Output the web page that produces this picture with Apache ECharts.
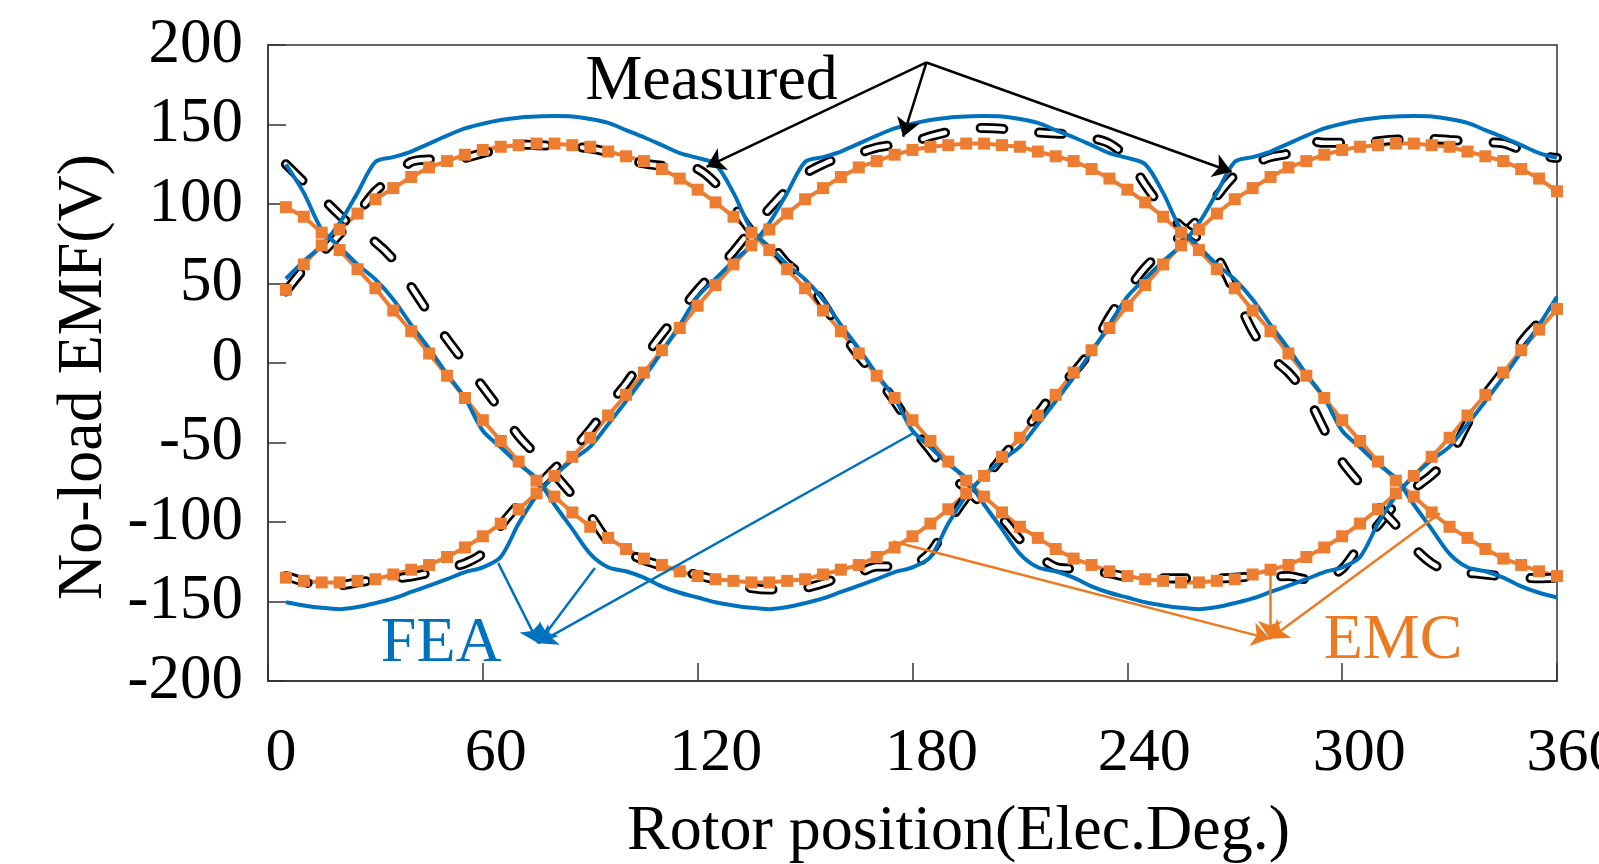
<!DOCTYPE html>
<html>
<head>
<meta charset="utf-8">
<script src="https://cdn.jsdelivr.net/npm/echarts@6.0.0/dist/echarts.min.js"></script>
<style>
  html, body { margin: 0; padding: 0; background: #fff; }
  #main { width: 1599px; height: 864px; }
</style>
</head>
<body>
<div id="main"></div>
<script>
// rotor position (elec. deg) of every sample
const angles = [5, 10, 15, 20, 25, 30, 35, 40, 45, 50, 55, 60, 65, 70, 75, 80, 85, 90, 95, 100,
  105, 110, 115, 120, 125, 130, 135, 140, 145, 150, 155, 160, 165, 170, 175, 180, 185, 190, 195, 200,
  205, 210, 215, 220, 225, 230, 235, 240, 245, 250, 255, 260, 265, 270, 275, 280, 285, 290, 295, 300,
  305, 310, 315, 320, 325, 330, 335, 340, 345, 350, 355, 360]

// EMC (orange squares)
const emcA = [98, 92, 82, 71, 59, 47, 33, 20, 6, -8, -22, -36, -49, -62, -74, -84, -94, -103, -110, -117,
  -123, -127, -131, -134, -136, -137, -138, -138, -137, -136, -133, -130, -127, -122, -116, -109, -101, -92, -82, -71,
  -59, -47, -33, -20, -6, 8, 22, 36, 49, 62, 74, 84, 94, 103, 110, 117, 123, 127, 131, 134,
  136, 137, 138, 138, 137, 136, 133, 130, 127, 122, 116, 108]
const emcB = [46, 62, 74, 84, 94, 103, 110, 117, 123, 127, 131, 134, 136, 137, 138, 138, 137, 136, 133, 130,
  127, 122, 116, 109, 101, 92, 82, 71, 59, 47, 33, 20, 6, -8, -22, -36, -49, -62, -74, -84,
  -94, -103, -110, -117, -123, -127, -131, -134, -136, -137, -138, -138, -137, -136, -133, -130, -127, -122, -116, -109,
  -101, -92, -82, -71, -59, -47, -33, -20, -6, 8, 21, 34]
const emcC = [-135, -137, -138, -138, -137, -136, -133, -130, -127, -122, -116, -109, -101, -92, -82, -71, -59, -47, -33, -20,
  -6, 8, 22, 36, 49, 62, 74, 84, 94, 103, 110, 117, 123, 127, 131, 134, 136, 137, 138, 138,
  137, 136, 133, 130, 127, 122, 116, 109, 101, 92, 82, 71, 59, 47, 33, 20, 6, -8, -22, -36,
  -49, -62, -74, -84, -94, -103, -110, -117, -123, -127, -131, -134]

// FEA (blue solid)
const feaA = [125, 107, 84, 73, 62, 52.5, 40, 24, 9, -7, -22, -42.6, -53, -63.5, -72.5, -89, -104.5, -120, -128.5, -131,
  -135, -140.5, -144.5, -147.5, -150.5, -152.5, -154, -154.8, -153.5, -151, -148, -144, -140, -136, -131.5, -128.5, -122, -101, -83.5, -71,
  -61, -52.6, -38.5, -24, -9, 7, 24, 41.7, 53, 64, 74, 88, 107, 126.5, 129.5, 133, 138, 143, 147.5, 150.5,
  152.8, 154.3, 155, 155.3, 155, 153.5, 151, 146.5, 142, 137, 132, 129]
const feaB = [53, 64, 74, 88, 107, 126.5, 129.5, 133, 138, 143, 147.5, 150.5, 152.8, 154.3, 155, 155.3, 155, 153.5, 151, 146.5,
  142, 137, 132, 129, 125, 107, 84, 73, 62, 52.5, 40, 24, 9, -7, -22, -42.6, -53, -63.5, -72.5, -89,
  -104.5, -120, -128.5, -131, -135, -140.5, -144.5, -147.5, -150.5, -152.5, -154, -154.8, -153.5, -151, -148, -144, -140, -136, -131.5, -128.5,
  -122, -101, -83.5, -71, -61, -52.6, -38.5, -24, -9, 7, 24, 41.7]
const feaC = [-150.5, -152.5, -154, -154.8, -153.5, -151, -148, -144, -140, -136, -131.5, -128.5, -122, -101, -83.5, -71, -61, -52.6, -38.5, -24,
  -9, 7, 24, 41.7, 53, 64, 74, 88, 107, 126.5, 129.5, 133, 138, 143, 147.5, 150.5, 152.8, 154.3, 155, 155.3,
  155, 153.5, 151, 146.5, 142, 137, 132, 129, 125, 107, 84, 73, 62, 52.5, 40, 24, 9, -7, -22, -42.6,
  -53, -63.5, -72.5, -89, -104.5, -120, -128.5, -131, -135, -140.5, -144.5, -147.5]

// Measured (black outlined dashes)
const measA = [125, 114, 104, 93, 83, 76, 65, 48, 31, 15, 0, -15, -30, -46, -58, -70, -83, -96, -112, -119,
  -124, -127.5, -130.5, -133.5, -136.3, -139, -141.5, -142.5, -142.3, -141.5, -138.5, -134.5, -132, -128, -128, -127, -119, -101, -84.5, -73,
  -59.5, -46, -32, -17, -6, 8.5, 29, 45.5, 60, 71, 80, 91, 105, 118, 125, 129.5, 132, 140, 138.5, 138.5,
  138.2, 139.5, 140.5, 141.2, 141, 140.2, 139.5, 138.8, 138.2, 134, 130.5, 129]
const measB = [45, 59, 69, 81, 94, 108, 117, 126.5, 128, 128.5, 129, 132, 134.5, 137.5, 137, 136.5, 136, 135, 132.5, 128.5,
  125.5, 124, 123.5, 122, 113, 99, 83, 75.5, 62.5, 53.5, 37.5, 20, 4.5, -9, -24, -41, -55, -70, -79, -90,
  -98, -111, -121, -128.3, -129.5, -131, -132.3, -134.5, -135.4, -135.4, -135.4, -135.4, -135.4, -135, -134.3, -134.3, -134, -136, -135, -129.5,
  -114.5, -102, -88.5, -79, -70.5, -59, -38, -20, -5, 13, 25.5, 34]
const measC = [-134, -137.5, -140.5, -140, -138, -136.5, -135.5, -134.3, -132, -129, -126, -119.5, -102.5, -89, -78, -66.5, -55, -42, -27, -13,
  3, 18, 32, 46, 58, 70, 84, 97, 109, 119, 125, 129.5, 132, 135.5, 137.2, 139, 142.5, 145.3, 147.3, 147.8,
  147.3, 145.8, 145, 144.3, 143.6, 141.5, 138, 129, 112, 97, 86, 78, 67, 44, 20, 4, -6, -20, -42, -62,
  -76, -90, -102, -116, -126, -131, -132, -133, -134.3, -135, -135.4, -135]

// annotations: [from, to] in axis units
const measuredArrows = [
  [[183.9, 189.0], [122.5, 123.4]],
  [[183.9, 189.0], [177.4, 142.3]],
  [[183.9, 189.0], [269.1, 120.3]]
]
const feaArrows = [
  [[64.3, -125.9], [75.5, -176.2]],
  [[91.3, -129.0], [75.5, -176.2]],
  [[180.2, -44.2], [75.5, -176.2]]
]
const emcArrows = [
  [[174.6, -112.3], [279.8, -173.5]],
  [[279.8, -129.0], [279.8, -173.5]],
  [[327.3, -94.5], [279.8, -173.5]]
]
const notes = [
  { text: 'Measured', at: [123.9, 176.8], color: '#000000' },
  { text: 'FEA', at: [48.4, -176.9], color: '#0072BD' },
  { text: 'EMC', at: [314.2, -175.1], color: '#EC7A22' }
]

const FONT = 'Liberation Serif'
const BLUE = '#0072BD'
const ORANGE = '#ED7D31'
const ARROW_ORANGE = '#EC7A22'

// tick labels sit a little right of their ticks in the original
const xLabelShift = { 0: 13, 60: 13, 120: 18, 180: 19, 240: 17, 300: 17, 360: 16 }
const xLabelRich = {}
Object.keys(xLabelShift).forEach(k => {
  xLabelRich['t' + k] = {
    fontFamily: FONT,
    fontSize: 62,
    color: '#000',
    padding: [0, 0, 0, xLabelShift[k] * 2]
  }
})

function pairs (ys) {
  return angles.map((x, i) => [x, ys[i]])
}

function arrowLine (list, color) {
  return {
    silent: true,
    animation: false,
    symbol: ['none', 'arrow'],
    symbolSize: 18,
    label: { show: false },
    emphasis: { disabled: true },
    lineStyle: { color: color, width: 2.5, type: 'solid', opacity: 1 },
    itemStyle: { color: color },
    data: list.map(a => [{ coord: a[0] }, { coord: a[1] }])
  }
}

function noteMark (note) {
  return {
    silent: true,
    animation: false,
    data: [{
      coord: note.at,
      symbol: 'rect',
      symbolSize: 1,
      itemStyle: { color: 'rgba(0,0,0,0)' },
      label: {
        show: true,
        position: 'inside',
        formatter: note.text,
        fontFamily: FONT,
        fontSize: 64,
        color: note.color
      }
    }]
  }
}

let series = []

// EMC below everything
;[emcA, emcB, emcC].forEach((ys, i) => {
  series.push({
    name: 'EMC',
    type: 'line',
    data: pairs(ys),
    symbol: 'rect',
    symbolSize: 12,
    showSymbol: true,
    lineStyle: { color: ORANGE, width: 4 },
    itemStyle: { color: ORANGE },
    markLine: i === 0 ? arrowLine(emcArrows, ARROW_ORANGE) : undefined,
    markPoint: i === 0 ? noteMark(notes[2]) : undefined
  })
})

// measured: black dash with white core
;[measA, measB, measC].forEach((ys, i) => {
  series.push({
    name: 'Measured',
    type: 'line',
    data: pairs(ys),
    smooth: 0.3,
    showSymbol: false,
    lineStyle: { color: '#000', width: 10, type: [23, 36], cap: 'round' }
  })
  series.push({
    name: 'Measured core',
    type: 'line',
    data: pairs(ys),
    smooth: 0.3,
    showSymbol: false,
    lineStyle: { color: '#fff', width: 4.5, type: [23, 36], cap: 'round' },
    markLine: i === 2 ? arrowLine(measuredArrows, '#000') : undefined,
    markPoint: i === 2 ? noteMark(notes[0]) : undefined
  })
})

// FEA on top
;[feaA, feaB, feaC].forEach((ys, i) => {
  series.push({
    name: 'FEA',
    type: 'line',
    data: pairs(ys),
    smooth: 0.3,
    showSymbol: false,
    lineStyle: { color: BLUE, width: 4 },
    markLine: i === 0 ? arrowLine(feaArrows, BLUE) : undefined,
    markPoint: i === 0 ? noteMark(notes[1]) : undefined
  })
})

let myChart = echarts.init(document.getElementById('main'))
myChart.setOption({
  animation: false,
  backgroundColor: '#fff',
  grid: {
    left: 268,
    right: 42,
    top: 45,
    bottom: 183,
    outerBoundsMode: 'none',
    containLabel: false,
    show: true,
    borderColor: '#333',
    borderWidth: 1.5
  },
  xAxis: {
    type: 'value',
    min: 0,
    max: 360,
    interval: 60,
    name: 'Rotor position(Elec.Deg.)',
    nameLocation: 'middle',
    nameGap: 119,
    nameTextStyle: { fontFamily: FONT, fontSize: 64, color: '#000', padding: [0, 0, 0, 92] },
    axisLine: { show: true, onZero: false, lineStyle: { color: '#333', width: 1.5 } },
    axisTick: { show: true, inside: true, length: 18, lineStyle: { color: '#333', width: 1.5 } },
    splitLine: { show: false },
    axisLabel: {
      fontFamily: FONT,
      fontSize: 62,
      color: '#000',
      margin: 42,
      hideOverlap: false,
      formatter: v => '{t' + v + '|' + v + '}',
      rich: xLabelRich
    }
  },
  yAxis: {
    type: 'value',
    min: -200,
    max: 200,
    interval: 50,
    name: 'No-load EMF(V)',
    nameLocation: 'middle',
    nameGap: 150,
    nameTextStyle: { fontFamily: FONT, fontSize: 64, color: '#000', padding: [0, 28, 0, 0] },
    axisLine: { show: true, onZero: false, lineStyle: { color: '#333', width: 1.5 } },
    axisTick: { show: true, inside: true, length: 18, lineStyle: { color: '#333', width: 1.5 } },
    splitLine: { show: false },
    axisLabel: {
      fontFamily: FONT,
      fontSize: 63,
      color: '#000',
      margin: 25
    }
  },
  series: series
})
</script>
</body>
</html>
